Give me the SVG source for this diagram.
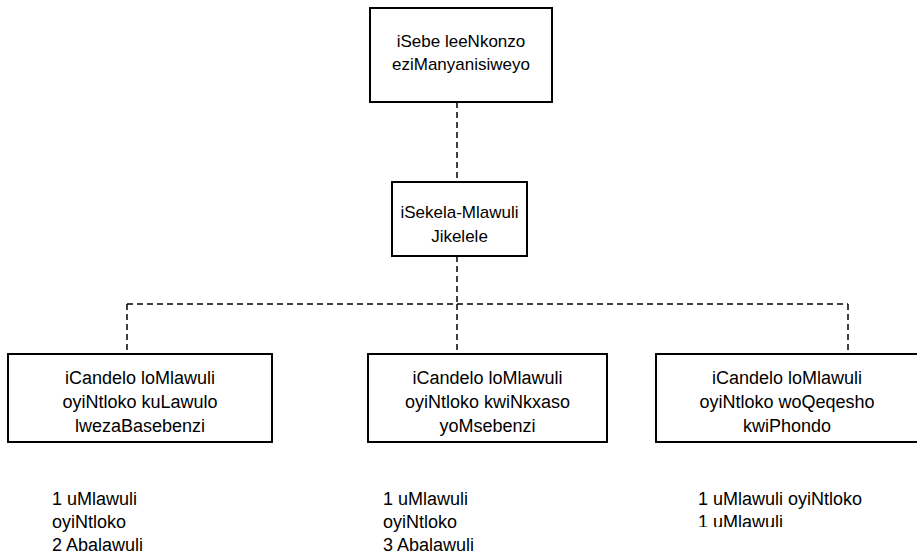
<svg xmlns="http://www.w3.org/2000/svg" width="917" height="560" viewBox="0 0 917 560">
<style>
.box{fill:#fff;stroke:#000;stroke-width:2}
.t{font-family:"Liberation Sans",Arial,sans-serif;font-size:17px;fill:#000}
.b{font-size:18px}
.c{text-anchor:middle}
.dash{fill:none;stroke:#000;stroke-width:1.5;stroke-dasharray:6,4}
</style>
<defs><clipPath id="clip3"><rect x="680" y="470" width="237" height="57"/></clipPath></defs>
<g id="connectors">
<path class="dash" d="M457,102 V182"/>
<path class="dash" d="M457,256 V304"/>
<path class="dash" d="M127,304 H848"/>
<path class="dash" d="M127,304 V354"/>
<path class="dash" d="M457,304 V354"/>
<path class="dash" d="M848,304 V354"/>
</g>
<g id="n1"><rect class="box" x="370" y="8" width="182" height="94"/>
<text class="t c" x="461" y="47">iSebe leeNkonzo</text><text class="t c" x="461" y="70">eziManyanisiweyo</text></g>
<g id="n2"><rect class="box" x="392" y="182" width="135" height="74"/>
<text class="t c" x="459.5" y="218">iSekela-Mlawuli</text><text class="t c" x="459.5" y="242">Jikelele</text></g>
<g id="n3"><rect class="box" x="8" y="354" width="264" height="88"/>
<text class="t b c" x="140" y="384">iCandelo loMlawuli</text><text class="t b c" x="140" y="408">oyiNtloko kuLawulo</text><text class="t b c" x="140" y="432">lwezaBasebenzi</text></g>
<g id="n4"><rect class="box" x="368" y="354" width="239" height="88"/>
<text class="t b c" x="487.5" y="384">iCandelo loMlawuli</text><text class="t b c" x="487.5" y="408">oyiNtloko kwiNkxaso</text><text class="t b c" x="487.5" y="432">yoMsebenzi</text></g>
<g id="n5"><rect class="box" x="656" y="354" width="270" height="88"/>
<text class="t b c" x="787" y="384">iCandelo loMlawuli</text><text class="t b c" x="787" y="408">oyiNtloko woQeqesho</text><text class="t b c" x="787" y="432">kwiPhondo</text></g>
<g id="l1"><text class="t b" x="52" y="505">1 uMlawuli</text><text class="t b" x="52" y="528">oyiNtloko</text><text class="t b" x="52" y="551">2 Abalawuli</text></g>
<g id="l2"><text class="t b" x="383" y="505">1 uMlawuli</text><text class="t b" x="383" y="528">oyiNtloko</text><text class="t b" x="383" y="551">3 Abalawuli</text></g>
<g id="l3" clip-path="url(#clip3)"><text class="t b" x="698" y="505">1 uMlawuli oyiNtloko</text><text class="t b" x="698" y="528">1 uMlawuli</text></g>
</svg>
